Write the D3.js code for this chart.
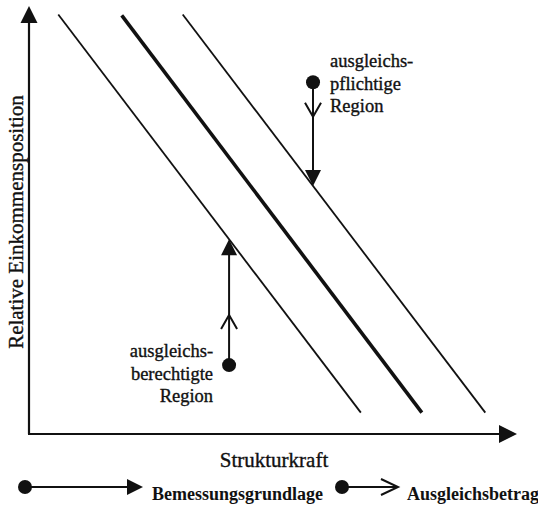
<!DOCTYPE html>
<html>
<head>
<meta charset="utf-8">
<script src="https://cdn.jsdelivr.net/npm/d3@7"></script>
<style>
  html, body { margin: 0; padding: 0; background: #fff; }
  svg { display: block; }
  text { font-family: "Liberation Serif", "Times New Roman", serif; fill: #111; }
  text.soft { stroke: #111; stroke-width: 0.35px; }
</style>
</head>
<body>
<div id="chart"></div>
<script>
// ---- data (abstract units: Strukturkraft on x, relative Einkommensposition on y) ----
const levelLines = ["untere", "Ausgleichsniveau", "obere"];
const lineStartX = [0.6, 1.9, 3.15];
const lineEndX   = [6.8, 8.05, 9.35];
const lineTopY   = [9.8, 9.78, 9.8];
const lineBottomY = [0.5, 0.5, 0.5];
const lineWidths = ["thin", "thick", "thin"];

const regionNames = ["ausgleichspflichtige Region", "ausgleichsberechtigte Region"];
const regionX = [5.82, 4.1];
const regionY = [8.22, 1.61];
const regionTargetLine = [2, 0];
const regionChevronY = [7.41, 2.78];
const regionLabelLines = [["ausgleichs-", "pflichtige", "Region"], ["ausgleichs-", "berechtigte", "Region"]];

const xAxisTitle = "Strukturkraft";
const yAxisTitle = "Relative Einkommensposition";
const legendLabels = ["Bemessungsgrundlage", "Ausgleichsbetrag"];

// ---- layout ----
const W = 538, H = 505;
const ink = "#111";
const x = d3.scaleLinear().domain([0, 10]).range([29, 517]);
const y = d3.scaleLinear().domain([0, 10]).range([434, 6]);

const svg = d3.select("#chart").append("svg").attr("width", W).attr("height", H);

// axes
const axisG = svg.append("g");
axisG.append("line").attr("x1", x(0)).attr("y1", y(0)).attr("x2", x(0)).attr("y2", y(10) + 16)
  .attr("stroke", ink).attr("stroke-width", 2.2);
axisG.append("line").attr("x1", x(0) - 1).attr("y1", y(0)).attr("x2", x(10) - 16).attr("y2", y(0))
  .attr("stroke", ink).attr("stroke-width", 2.2);
// axis arrowheads
axisG.append("path").attr("d", `M${x(0)},${y(10)} L${x(0) - 8.5},${y(10) + 17} L${x(0) + 8.5},${y(10) + 17} Z`).attr("fill", ink);
axisG.append("path").attr("d", `M${x(10)},${y(0)} L${x(10) - 18},${y(0) - 9} L${x(10) - 18},${y(0) + 9} Z`).attr("fill", ink);

// level lines
const lines = levelLines.map((n, i) => ({
  name: n, x0: lineStartX[i], y0: lineTopY[i], x1: lineEndX[i], y1: lineBottomY[i], w: lineWidths[i]
}));
svg.append("g").selectAll("line").data(lines).join("line")
  .attr("x1", d => x(d.x0)).attr("y1", d => y(d.y0))
  .attr("x2", d => x(d.x1)).attr("y2", d => y(d.y1))
  .attr("stroke", ink)
  .attr("stroke-width", d => d.w === "thick" ? 3.6 : 1.8)
  .attr("stroke-linecap", "butt");

function lineYAt(l, xv) {
  const t = (xv - l.x0) / (l.x1 - l.x0);
  return l.y0 + t * (l.y1 - l.y0);
}

// regions with arrows
const regions = regionNames.map((n, i) => {
  const l = lines[regionTargetLine[i]];
  return { name: n, x: regionX[i], y: regionY[i], ty: lineYAt(l, regionX[i]), cy: regionChevronY[i], labels: regionLabelLines[i], up: i === 1 };
});

const rg = svg.append("g").selectAll("g").data(regions).join("g");
rg.append("line")
  .attr("x1", d => x(d.x)).attr("y1", d => y(d.y))
  .attr("x2", d => x(d.x)).attr("y2", d => y(d.ty) + (d.up ? 8 : -8))
  .attr("stroke", ink).attr("stroke-width", 2);
// filled triangle at target line
rg.append("path").attr("d", d => {
  const px = x(d.x), py = y(d.ty);
  const s = d.up ? 1 : -1;
  return `M${px},${py} L${px - 8},${py + s * 16} L${px + 8},${py + s * 16} Z`;
}).attr("fill", ink);
// open chevron
rg.append("path").attr("d", d => {
  const px = x(d.x), py = y(d.cy);
  const s = d.up ? 1 : -1;
  return `M${px - 8},${py + s * 14} L${px},${py} L${px + 8},${py + s * 14}`;
}).attr("fill", "none").attr("stroke", ink).attr("stroke-width", 2);
// dot
rg.append("circle").attr("cx", d => x(d.x)).attr("cy", d => y(d.y)).attr("r", 7).attr("fill", ink);

// region labels
const labelPos = [
  { x: x(regionX[0]) + 17, y0: 67, anchor: "start" },
  { x: x(regionX[1]) - 16, y0: 357, anchor: "end" }
];
rg.each(function(d, i) {
  const g = d3.select(this);
  const p = labelPos[i];
  g.selectAll("text").data(d.labels).join("text")
    .attr("class", "soft")
    .attr("x", p.x).attr("y", (t, j) => p.y0 + j * 22.5)
    .attr("text-anchor", p.anchor)
    .attr("font-size", 18.5)
    .text(t => t);
});

// axis titles
svg.append("text").attr("class", "soft").attr("x", (29 + 517) / 2 + 1).attr("y", 467)
  .attr("text-anchor", "middle").attr("font-size", 21).text(xAxisTitle);
svg.append("text").attr("class", "soft").attr("transform", "translate(23,222) rotate(-90)")
  .attr("text-anchor", "middle").attr("font-size", 21).text(yAxisTitle);

// legend
const lg = svg.append("g");
const ly = 487;
lg.append("circle").attr("cx", 25).attr("cy", ly).attr("r", 7).attr("fill", ink);
lg.append("line").attr("x1", 25).attr("y1", ly).attr("x2", 130).attr("y2", ly).attr("stroke", ink).attr("stroke-width", 2);
lg.append("path").attr("d", `M143,${ly} L127,${ly - 8} L127,${ly + 8} Z`).attr("fill", ink);
lg.append("text").attr("x", 152).attr("y", 500).attr("font-size", 18).attr("font-weight", "bold").text(legendLabels[0]);

lg.append("circle").attr("cx", 342).attr("cy", ly).attr("r", 7).attr("fill", ink);
lg.append("line").attr("x1", 342).attr("y1", ly).attr("x2", 397).attr("y2", ly).attr("stroke", ink).attr("stroke-width", 2);
lg.append("path").attr("d", `M381,${ly - 8} L398,${ly} L381,${ly + 8}`).attr("fill", "none").attr("stroke", ink).attr("stroke-width", 2);
lg.append("text").attr("x", 407).attr("y", 500).attr("font-size", 18).attr("font-weight", "bold").text(legendLabels[1]);
</script>
</body>
</html>
